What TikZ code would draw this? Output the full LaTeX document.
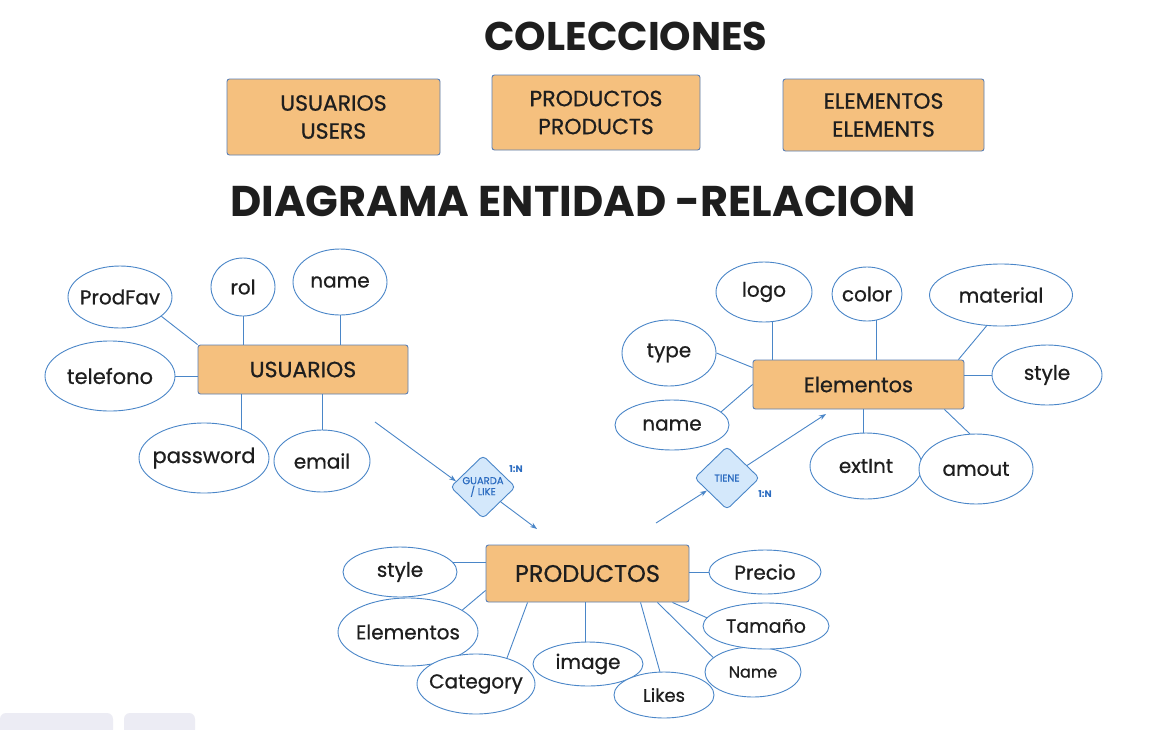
\documentclass[tikz,border=0pt]{standalone}
\usepackage{fontspec}
\setmainfont{Poppins}
\newfontfamily\hw{Poppins}[FakeBold=0.7]
\usetikzlibrary{shapes.geometric,calc,arrows.meta}
\definecolor{ln}{HTML}{4A86C8}
\definecolor{org}{HTML}{F5C07E}
\definecolor{obd}{HTML}{5A7FB5}
\definecolor{dfill}{HTML}{D4E8FB}
\definecolor{dtxt}{HTML}{2A6BC0}
\definecolor{ink}{HTML}{1E1E1E}
\definecolor{uig}{HTML}{ECECF4}
\begin{document}
\begin{tikzpicture}[x=1pt,y=-1pt,
 ent/.style={draw=obd, fill=org, line width=0.9pt, rounded corners=2.5pt, inner sep=0pt, text=ink, align=center},
 att/.style={ellipse, draw=ln, line width=0.9pt, fill=white, inner sep=-6pt, text=ink, font=\hw\fontsize{20}{22}\selectfont},
 rel/.style={diamond, draw=ln, fill=dfill, line width=0.9pt, rounded corners=4pt, inner sep=-4pt, text=dtxt, minimum width=65pt, minimum height=63pt, align=center, font=\hw\fontsize{10}{11}\selectfont},
 conn/.style={draw=ln, line width=0.9pt},
 arr/.style={conn, -{Stealth[length=7pt,width=5pt]}},
 card/.style={text=dtxt, font=\fontsize{9.5}{11}\selectfont\bfseries},
 ttl/.style={text=ink, font=\fontsize{40}{44}\selectfont\bfseries}
]
\useasboundingbox (0,0) rectangle (1156,729);
\clip (0,0) rectangle (1156,729);
\fill[white] (0,0) rectangle (1156,729);

% titles
\node[ttl] (t1) at (626,36) {COLECCIONES};
\node[ttl, font=\fontsize{43}{46}\selectfont\bfseries] (t2) at (573,201) {DIAGRAMA ENTIDAD -RELACION};

% collections
\node[ent, minimum width=213, minimum height=76, font=\hw\fontsize{22}{28}\selectfont] (c1) at (333.5,117) {USUARIOS\\USERS};
\node[ent, minimum width=208, minimum height=75, font=\hw\fontsize{22}{28}\selectfont] (c2) at (596,112.5) {PRODUCTOS\\PRODUCTS};
\node[ent, minimum width=201, minimum height=72, font=\hw\fontsize{22}{28}\selectfont] (c3) at (883.5,115) {ELEMENTOS\\ELEMENTS};

% entities
\node[ent, minimum width=210, minimum height=49, font=\hw\fontsize{22}{24}\selectfont] (usu) at (303,369.5) {USUARIOS};
\node[ent, minimum width=211, minimum height=49, font=\hw\fontsize{21}{24}\selectfont] (ele) at (858.5,384.5) {Elementos};
\node[ent, minimum width=203, minimum height=57, font=\hw\fontsize{24}{26}\selectfont] (pro) at (587.5,573.5) {PRODUCTOS};

% USUARIOS attributes
\node[att, minimum width=104, minimum height=62] (pf) at (120,297) {ProdFav};
\node[att, minimum width=64, minimum height=58] (rol) at (243,287) {rol};
\node[att, minimum width=94, minimum height=66] (unm) at (340,282) {name};
\node[att, minimum width=130, minimum height=70, font=\hw\fontsize{21}{22}\selectfont] (tel) at (110,376) {telefono};
\node[att, minimum width=130, minimum height=70, font=\hw\fontsize{21}{22}\selectfont] (pw) at (204,458) {password};
\node[att, minimum width=96, minimum height=62] (em) at (322,461) {email};

% Elementos attributes
\node[att, minimum width=96, minimum height=60] (lg) at (764,292) {logo};
\node[att, minimum width=70, minimum height=54] (col) at (867,294) {color};
\node[att, minimum width=143, minimum height=62] (mat) at (1001,295) {material};
\node[att, minimum width=94, minimum height=66] (typ) at (669,353) {type};
\node[att, minimum width=110, minimum height=60] (est) at (1047,375) {style};
\node[att, minimum width=114, minimum height=50] (enm) at (672,425) {name};
\node[att, minimum width=112, minimum height=66] (ext) at (866,466) {extInt};
\node[att, minimum width=114, minimum height=70] (am) at (976,469) {amout};

% PRODUCTOS attributes
\node[att, minimum width=114, minimum height=50] (ps) at (400,572) {style};
\node[att, minimum width=140, minimum height=68] (pel) at (408,632) {Elementos};
\node[att, minimum width=118, minimum height=60] (cat) at (476,684) {Category};
\node[att, minimum width=110, minimum height=44] (img) at (588,664) {image};
\node[att, minimum width=100, minimum height=46, font=\hw\fontsize{18}{20}\selectfont] (lk) at (664,695) {Likes};
\node[att, minimum width=96, minimum height=50, font=\hw\fontsize{16}{18}\selectfont] (pn) at (753,672) {Name};
\node[att, minimum width=126, minimum height=46, font=\hw\fontsize{19}{20}\selectfont] (tm) at (766,626) {Tamaño};
\node[att, minimum width=112, minimum height=44, font=\hw\fontsize{20}{20}\selectfont] (pr) at (765,572) {Precio};

% relationships
\node[rel] (gl) at (483,487) {GUARDA\\/ LIKE};
\node[card] (gln) at (516,469) {1:N};
\node[rel] (ti) at (727,478) {TIENE};
\node[card] (tin) at (765,494) {1:N};

% USUARIOS connectors
\draw[conn] (pf.-25) -- (usu.north west);
\draw[conn] (rol.south) -- (rol.south |- usu.north);
\draw[conn] (unm.south) -- (unm.south |- usu.north);
\draw[conn] (tel.east) -- (tel.east -| usu.west);
\draw[conn] (pw.38) -- (pw.38 |- usu.south);
\draw[conn] (em.north) -- (em.north |- usu.south);

% Elementos connectors
\draw[conn] (lg.-75) -- (lg.-75 |- ele.north);
\draw[conn] (col.-70) -- (col.-70 |- ele.north);
\draw[conn] (mat.-115) -- ($(ele.north east)+(-6,0)$);
\draw[conn] (typ.east) -- ($(ele.north west)+(0,8)$);
\draw[conn] (est.west) -- (est.west -| ele.east);
\draw[conn] (enm.15) -- (ele.west);
\draw[conn] (ext.95) -- (ext.95 |- ele.south);
\draw[conn] (am.100) -- ($(ele.south east)+(-20,0)$);

% PRODUCTOS connectors
\draw[conn] (ps.10) -- (ps.10 -| pro.west);
\draw[conn] (pel.22) -- ($(pro.south west)+(0,-12)$);
\draw[conn] (cat.40) -- ($(pro.south west)+(42,0)$);
\draw[conn] (img.97) -- (img.97 |- pro.south);
\draw[conn] (lk.100) -- ($(pro.south west)+(155,0)$);
\draw[conn] (pn.160) -- ($(pro.south east)+(-32,0)$);
\draw[conn] (tm.172) -- ($(pro.south east)+(-17,0)$);
\draw[conn] (pr.west) -- (pr.west -| pro.east);

% relationship arrows
\coordinate (a1s) at (375,422);
\coordinate (a2e) at (537,529);
\coordinate (a3s) at (656,523);
\coordinate (a4e) at (826,414);
\draw[arr] (a1s) -- (gl.168);
\draw[arr] (gl.-40) -- (a2e);
\draw[arr] (a3s) -- (ti.-148);
\draw[arr] (ti.32) -- (a4e);

% bottom-left UI
\fill[uig, rounded corners=6pt] (0,713) rectangle (113,745);
\fill[uig, rounded corners=6pt] (124,713) rectangle (195,745);
\end{tikzpicture}
\end{document}
